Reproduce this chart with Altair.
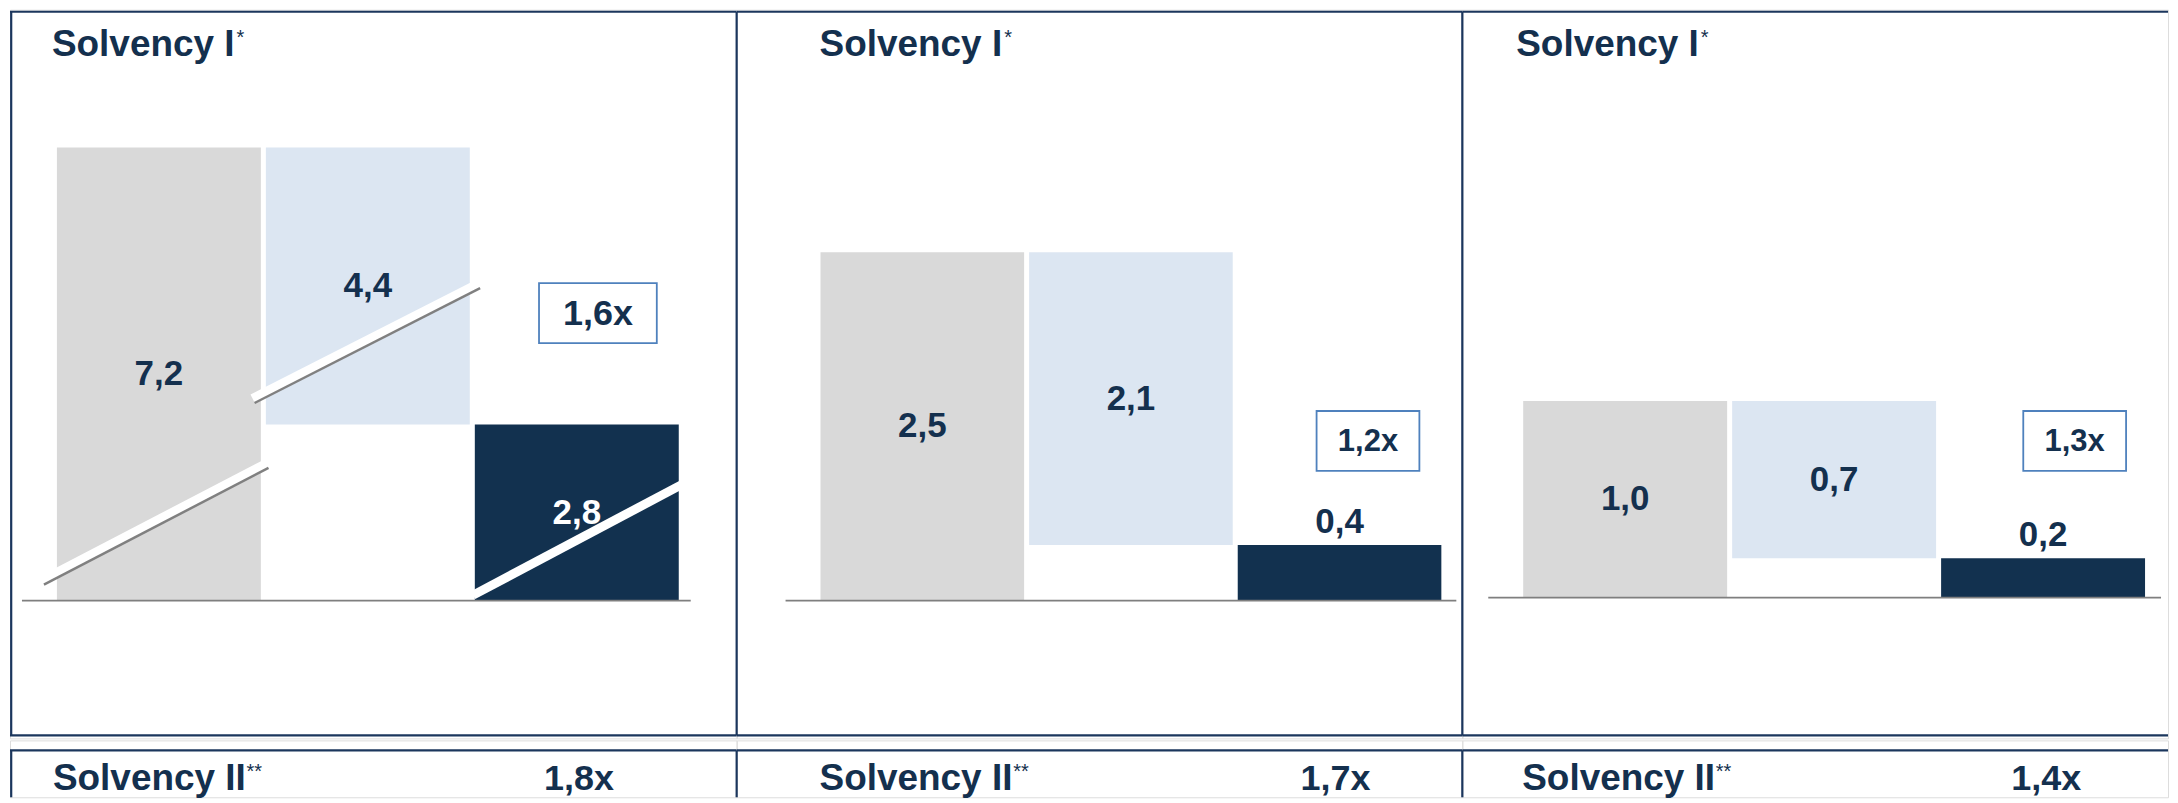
import altair as alt
import pandas as pd

# ---------------- data ----------------
bar_keys = ["Gesamt", "Reduktion", "Rest"]
total = [7.2, 2.5, 1.0]
reduction = [4.4, 2.1, 0.7]
remaining = [2.8, 0.4, 0.2]
ratio_s1 = ["1,6x", "1,2x", "1,3x"]
ratio_s2 = ["1,8x", "1,7x", "1,4x"]
title_s1 = "Solvency I"
mark_s1 = "*"
title_s2 = "Solvency II"
mark_s2 = "**"

# ---------------- style / layout ----------------
FONT = "Liberation Sans"
NAVY = "#12314f"
TXT = "#14304e"
GRAY = "#d9d9d9"
LBLUE = "#dce6f2"
BORDER = "#1b365d"
BOX = "#4f81bd"
AXIS = "#7f7f7f"
TOP_H = 730
BOT_H = 57

LAYOUT = [
    dict(w=728, xr=[47, 670], yr=[592, 138], base=[12, 682], tx=42, box=[530, 648, 274, 334],
         rfs=36, btx=43, brx=570, left=1.2),
    dict(w=727, xr=[84, 706], yr=[592, 243], base=[49, 721], tx=83, box=[581, 684, 402, 462],
         rfs=31, btx=83, brx=600, left=0),
    dict(w=707, xr=[61, 684], yr=[589, 392], base=[26, 700], tx=54, box=[562, 665, 402, 462],
         rfs=31, btx=60, brx=585, left=0),
]

# break marks (panel 1 only): gray edge line and white band
SLASHES = [
    ((34, 576), (259, 459), True),
    ((245, 394), (471, 279), True),
    ((466, 591), (683, 476), False),
]

one = pd.DataFrame({"k": [0]})


def fmt(v):
    return f"{v:.1f}".replace(".", ",")


def rule(x1, x2, y1, y2, color=BORDER, w=2.2):
    return alt.Chart(one).mark_rule(color=color, strokeWidth=w).encode(
        x=alt.value(x1), x2=alt.value(x2), y=alt.value(y1), y2=alt.value(y2)
    )


def top_panel(i):
    L = LAYOUT[i]
    df = pd.DataFrame({
        "cat": bar_keys,
        "start": [0, remaining[i], 0],
        "end": [total[i], total[i], remaining[i]],
        "value": [total[i], reduction[i], remaining[i]],
    })
    df["label"] = df["value"].map(fmt)
    df["mid"] = (df["start"] + df["end"]) / 2
    df["inside"] = (df["end"] - df["start"]) / total[i] > 0.25
    df["tcolor"] = [
        ("white" if (ins and c == "Rest") else TXT) for ins, c in zip(df["inside"], df["cat"])
    ]

    xs = alt.X("cat:N", sort=bar_keys, axis=None,
               scale=alt.Scale(domain=bar_keys, range=L["xr"], paddingInner=0.024, paddingOuter=0))
    ys = alt.Scale(domain=[0, total[i]], range=L["yr"], nice=False, zero=True)

    base = alt.Chart(df)
    bars = base.mark_bar().encode(
        x=xs,
        y=alt.Y("end:Q", scale=ys, axis=None),
        y2="start:Q",
        color=alt.Color("cat:N", scale=alt.Scale(domain=bar_keys, range=[GRAY, LBLUE, NAVY]), legend=None),
    )
    lab_in = base.transform_filter("datum.inside").mark_text(
        font=FONT, fontSize=35, fontWeight="bold", baseline="middle", align="center"
    ).encode(x=xs, y=alt.Y("mid:Q", axis=None), text="label:N", color=alt.Color("tcolor:N", scale=None))
    lab_out = base.transform_filter("!datum.inside").mark_text(
        font=FONT, fontSize=35, fontWeight="bold", baseline="alphabetic", align="center", dy=-12
    ).encode(x=xs, y=alt.Y("end:Q", axis=None), text="label:N", color=alt.Color("tcolor:N", scale=None))

    axis_line = alt.Chart(one).mark_rule(color=AXIS, strokeWidth=1.6).encode(
        x=alt.value(L["base"][0]), x2=alt.value(L["base"][1]), y=alt.YDatum(0, axis=None)
    )

    layers = [bars, lab_in, lab_out, axis_line]

    if i == 0:
        for (p1, p2, gray_edge) in SLASHES:
            layers.append(rule(p1[0] - 2, p2[0] - 2, p1[1] - 4.5, p2[1] - 4.5, color="white", w=9))
            if gray_edge:
                layers.append(rule(p1[0], p2[0], p1[1], p2[1], color="#808080", w=2.5))

    bx = L["box"]
    layers.append(alt.Chart(one).mark_rect(fill="white", stroke=BOX, strokeWidth=1.8).encode(
        x=alt.value(bx[0]), x2=alt.value(bx[1]), y=alt.value(bx[2]), y2=alt.value(bx[3])))
    layers.append(alt.Chart(one).mark_text(
        font=FONT, fontSize=L["rfs"], fontWeight="bold", color=TXT, align="center", baseline="middle", dy=1
    ).encode(x=alt.value((bx[0] + bx[1]) / 2), y=alt.value((bx[2] + bx[3]) / 2), text=alt.value(ratio_s1[i])))

    # heading
    layers.append(alt.Chart(one).mark_text(
        font=FONT, fontSize=37, fontWeight="bold", color=TXT, align="left", baseline="alphabetic"
    ).encode(x=alt.value(L["tx"]), y=alt.value(46), text=alt.value(title_s1)))
    layers.append(alt.Chart(one).mark_text(
        font=FONT, fontSize=20, color=TXT, align="left", baseline="alphabetic"
    ).encode(x=alt.value(L["tx"] + 185), y=alt.value(34), text=alt.value(mark_s1)))

    # borders
    layers.append(rule(0, L["w"], 2, 2))
    layers.append(rule(0, L["w"], 727, 727))
    layers.append(rule(L["left"], L["left"], 2, 727))
    # invisible full-size frame so the row's bounds equal the view
    layers.append(rule(0, 0, 0, TOP_H, color="white", w=0.01))

    return alt.layer(*layers).properties(width=L["w"], height=TOP_H)


def bottom_panel(i):
    L = LAYOUT[i]
    layers = [
        rule(0, L["w"], 10, 10),
        rule(L["left"], L["left"], 10, BOT_H),
        alt.Chart(one).mark_text(
            font=FONT, fontSize=37, fontWeight="bold", color=TXT, align="left", baseline="alphabetic"
        ).encode(x=alt.value(L["btx"]), y=alt.value(50), text=alt.value(title_s2)),
        alt.Chart(one).mark_text(
            font=FONT, fontSize=20, color=TXT, align="left", baseline="alphabetic"
        ).encode(x=alt.value(L["btx"] + 194), y=alt.value(38), text=alt.value(mark_s2)),
        alt.Chart(one).mark_text(
            font=FONT, fontSize=36, fontWeight="bold", color=TXT, align="center", baseline="alphabetic"
        ).encode(x=alt.value(L["brx"]), y=alt.value(50), text=alt.value(ratio_s2[i])),
    ]
    return alt.layer(*layers).properties(width=L["w"], height=BOT_H)


top_row = alt.hconcat(*[top_panel(i) for i in range(3)], spacing=0, bounds="flush")
bot_row = alt.hconcat(*[bottom_panel(i) for i in range(3)], spacing=0, bounds="flush")

chart = alt.vconcat(top_row, bot_row, spacing=0).properties(
    padding=0
).configure_view(stroke=None).configure(font=FONT, background="white")

chart.save("out.html", embed_options={"renderer": "svg", "actions": False})
